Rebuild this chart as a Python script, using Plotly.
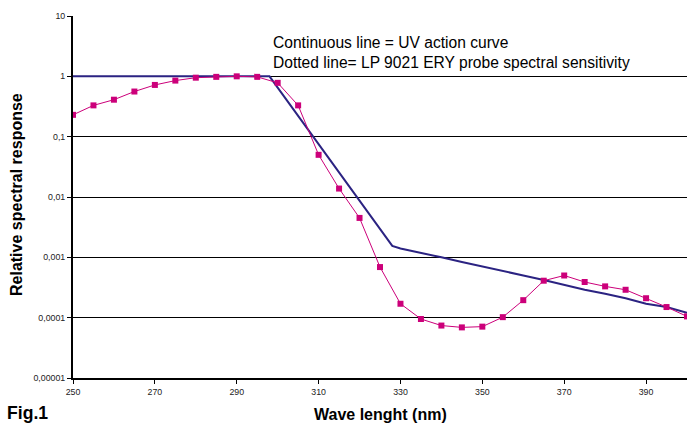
import plotly.graph_objects as go

# UV action curve (continuous line)
uv_wl = [250, 255, 260, 265, 270, 275, 280, 285, 290, 295, 298, 300, 305, 310, 315, 320, 325, 328,
         330, 335, 340, 345, 350, 355, 360, 365, 370, 375, 380, 385, 390, 395, 400]
uv_val = [1, 1, 1, 1, 1, 1, 1, 1, 1, 1, 1, 0.65, 0.22, 0.074, 0.025, 0.0086, 0.0029, 0.00155,
          0.0014, 0.0012, 0.001, 0.00084, 0.0007, 0.00059, 0.0005, 0.00042, 0.00035, 0.00029,
          0.00025, 0.00021, 0.00017, 0.00015, 0.00012]

# LP 9021 ERY probe spectral sensitivity (dotted line with markers)
probe_wl = [250, 255, 260, 265, 270, 275, 280, 285, 290, 295, 300, 305, 310, 315, 320, 325, 330,
            335, 340, 345, 350, 355, 360, 365, 370, 375, 380, 385, 390, 395, 400]
probe_val = [0.23, 0.33, 0.41, 0.56, 0.72, 0.85, 0.95, 0.98, 1.0, 0.98, 0.78, 0.33, 0.05, 0.0138,
             0.0045, 0.00069, 0.00017, 0.000095, 0.000074, 0.000069, 0.000071, 0.000102, 0.000195,
             0.00041, 0.0005, 0.00039, 0.00033, 0.00029, 0.00021, 0.00015, 0.000105]

x_ticks = [250, 270, 290, 310, 330, 350, 370, 390]
y_ticks = [10, 1, 0.1, 0.01, 0.001, 0.0001, 0.00001]
y_tick_labels = ["10", "1", "0,1", "0,01", "0,001", "0,0001", "0,00001"]

W, H = 687, 423
L, R, T, B = 73, 0, 16, 45
PW, PH = W - L - R, H - T - B


def px(x):
    return (x - L) / PW


def py(y):
    return 1 - (y - T) / PH


fig = go.Figure()
fig.add_trace(go.Scatter(x=uv_wl, y=uv_val, mode="lines",
                         line=dict(color="#2B2382", width=2), showlegend=False))
fig.add_trace(go.Scatter(x=probe_wl, y=probe_val, mode="lines+markers",
                         line=dict(color="#CC007A", width=1),
                         marker=dict(symbol="square", size=6, color="#CC007A"),
                         showlegend=False))

fig.update_layout(
    width=W, height=H,
    margin=dict(l=L, r=R, t=T, b=B),
    paper_bgcolor="white", plot_bgcolor="white",
    font=dict(family="Liberation Sans, Arial, sans-serif", color="black"),
    xaxis=dict(range=[250, 400], tickvals=x_ticks, ticktext=[str(v) for v in x_ticks],
               showgrid=False, zeroline=False, showline=True, linecolor="black", linewidth=2,
               ticks="outside", ticklen=4, tickcolor="black", tickwidth=1,
               tickfont=dict(size=8.8, color="#222")),
    yaxis=dict(type="log", range=[-5, 1], tickvals=y_ticks, ticktext=y_tick_labels,
               showgrid=True, gridcolor="black", gridwidth=1, zeroline=False,
               showline=True, linecolor="black", linewidth=2,
               ticks="outside", ticklen=4, tickcolor="black", tickwidth=1,
               tickfont=dict(size=8.8, color="#222")),
    annotations=[
        dict(text="Continuous line = UV action curve", xref="paper", yref="paper",
             x=px(271), y=py(42), xanchor="left", yanchor="middle",
             showarrow=False, font=dict(size=15.6, color="black")),
        dict(text="Dotted line= LP 9021 ERY probe spectral sensitivity", xref="paper", yref="paper",
             x=px(271), y=py(62), xanchor="left", yanchor="middle",
             showarrow=False, font=dict(size=15.6, color="black")),
        dict(text="<b>Wave lenght (nm)</b>", xref="paper", yref="paper",
             x=px(380), y=py(414), xanchor="center", yanchor="middle",
             showarrow=False, font=dict(size=16, color="black")),
        dict(text="<b>Fig.1</b>", xref="paper", yref="paper",
             x=px(5), y=py(413), xanchor="left", yanchor="middle",
             showarrow=False, font=dict(size=17.6, color="black")),
        dict(text="<b>Relative spectral response</b>", xref="paper", yref="paper",
             x=px(16), y=py(195), xanchor="center", yanchor="middle", textangle=-90,
             showarrow=False, font=dict(size=16, color="black")),
    ],
)

fig.write_html("out.html", config={"displayModeBar": False},
               post_script="document.body.style.margin='0';document.body.style.overflow='hidden';")
